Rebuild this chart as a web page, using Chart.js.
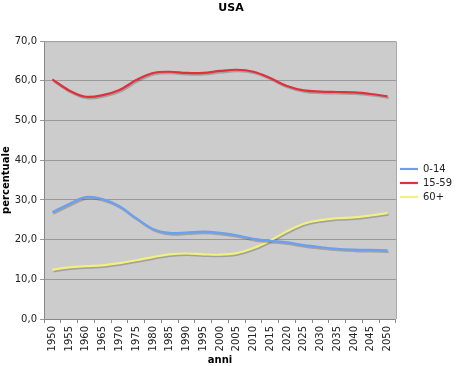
<!DOCTYPE html>
<html>
<head>
<meta charset="utf-8">
<script src="https://cdn.jsdelivr.net/npm/chart.js@4/dist/chart.umd.min.js"></script>
<style>
  html, body { margin: 0; padding: 0; background: #ffffff; }
  #wrap { width: 460px; height: 366px; }
</style>
</head>
<body>
<div id="wrap"><canvas id="usaChart" width="460" height="366"></canvas></div>
<script>
const years = ['1950', '1955', '1960', '1965', '1970', '1975', '1980', '1985', '1990', '1995', '2000',
    '2005', '2010', '2015', '2020', '2025', '2030', '2035', '2040', '2045', '2050'];

const age0to14 = [26.9, 29.0, 30.7, 30.2, 28.4, 25.4, 22.7, 21.7, 21.8, 22.0, 21.7,
    21.1, 20.2, 19.7, 19.3, 18.6, 18.1, 17.7, 17.5, 17.4, 17.3];
const age15to59 = [60.4, 57.6, 56.0, 56.4, 57.7, 60.2, 62.0, 62.3, 62.0, 62.0, 62.5,
    62.8, 62.3, 60.7, 58.7, 57.6, 57.3, 57.2, 57.1, 56.7, 56.1];
const age60plus = [12.4, 13.0, 13.3, 13.5, 14.1, 14.8, 15.6, 16.3, 16.5, 16.3, 16.2,
    16.6, 17.9, 19.8, 22.1, 24.0, 24.9, 25.4, 25.6, 26.1, 26.7];

const seriesNames = ['0-14', '15-59', '60+'];
const yTicks = [0, 10, 20, 30, 40, 50, 60, 70];

Chart.defaults.font.family = '"DejaVu Sans", Verdana, sans-serif';
Chart.defaults.font.size = 10;
Chart.defaults.color = '#222222';

// grey plot background like the spreadsheet chart
const plotBackground = {
    id: 'plotBackground',
    beforeDraw(chart) {
        const { ctx, chartArea } = chart;
        ctx.save();
        ctx.fillStyle = '#cccccc';
        ctx.fillRect(chartArea.left, chartArea.top, chartArea.right - chartArea.left, chartArea.bottom - chartArea.top);
        ctx.restore();
    },
    afterDraw(chart) {
        const { ctx, chartArea } = chart;
        ctx.save();
        ctx.strokeStyle = '#a6a6a6';
        ctx.lineWidth = 1;
        ctx.beginPath();
        ctx.moveTo(chartArea.left, chartArea.top + 0.5);
        ctx.lineTo(chartArea.right + 0.5, chartArea.top + 0.5);
        ctx.lineTo(chartArea.right + 0.5, chartArea.bottom);
        ctx.stroke();
        ctx.restore();
    }
};

// light drop shadow under the lines
const lineShadow = {
    id: 'lineShadow',
    beforeDatasetDraw(chart) {
        const ctx = chart.ctx;
        ctx.save();
        ctx.shadowColor = 'rgba(80, 80, 80, 0.35)';
        ctx.shadowOffsetX = 1;
        ctx.shadowOffsetY = 1.5;
        ctx.shadowBlur = 0;
    },
    afterDatasetDraw(chart) {
        chart.ctx.restore();
    }
};

const ctx = document.getElementById('usaChart').getContext('2d');
new Chart(ctx, {
    type: 'line',
    data: {
        labels: years,
        datasets: [{
            label: seriesNames[0],
            data: age0to14,
            borderColor: '#6c9ff0',
            backgroundColor: '#6c9ff0',
            borderWidth: 2.2,
            pointRadius: 0,
            tension: 0.35,
            fill: false
        }, {
            label: seriesNames[1],
            data: age15to59,
            borderColor: '#e0303c',
            backgroundColor: '#e0303c',
            borderWidth: 2.2,
            pointRadius: 0,
            tension: 0.35,
            fill: false
        }, {
            label: seriesNames[2],
            data: age60plus,
            borderColor: '#f2f07e',
            backgroundColor: '#f2f07e',
            borderWidth: 2.2,
            pointRadius: 0,
            tension: 0.35,
            fill: false
        }]
    },
    options: {
        responsive: false,
        animation: false,
        layout: { padding: { left: 0, right: -2, top: 0, bottom: 0 } },
        plugins: {
            title: {
                display: true,
                text: 'USA',
                font: { size: 11, weight: 'bold' },
                color: '#000000',
                padding: { top: 2, bottom: 26 }
            },
            legend: {
                position: 'right',
                labels: {
                    usePointStyle: true,
                    pointStyle: 'line',
                    pointStyleWidth: 18,
                    boxHeight: 10,
                    padding: 4,
                    font: { size: 10 },
                    color: '#222222'
                }
            },
            tooltip: { enabled: false }
        },
        scales: {
            x: {
                offset: true,
                grid: {
                    offset: true,
                    drawOnChartArea: false,
                    color: '#888888',
                    tickLength: 4
                },
                border: { color: '#888888' },
                ticks: {
                    autoSkip: false,
                    maxRotation: 90,
                    minRotation: 90,
                    padding: 3,
                    color: '#222222'
                },
                title: {
                    display: true,
                    text: 'anni',
                    font: { size: 10, weight: 'bold' },
                    color: '#000000',
                    padding: { top: 2, bottom: 0 }
                },
                afterFit(scale) { scale.height = 47; }
            },
            y: {
                min: 0,
                max: 70,
                afterBuildTicks(scale) { scale.ticks = yTicks.map(v => ({ value: v })); },
                grid: {
                    color: '#999999',
                    tickLength: 4
                },
                border: { color: '#888888' },
                ticks: {
                    padding: 3,
                    color: '#222222',
                    callback: v => v.toFixed(1).replace('.', ',')
                },
                title: {
                    display: true,
                    text: 'percentuale',
                    font: { size: 10, weight: 'bold' },
                    color: '#000000',
                    padding: { top: 0, bottom: 2 }
                },
                afterFit(scale) { scale.width = 44; }
            }
        }
    },
    plugins: [plotBackground, lineShadow]
});
</script>
</body>
</html>
